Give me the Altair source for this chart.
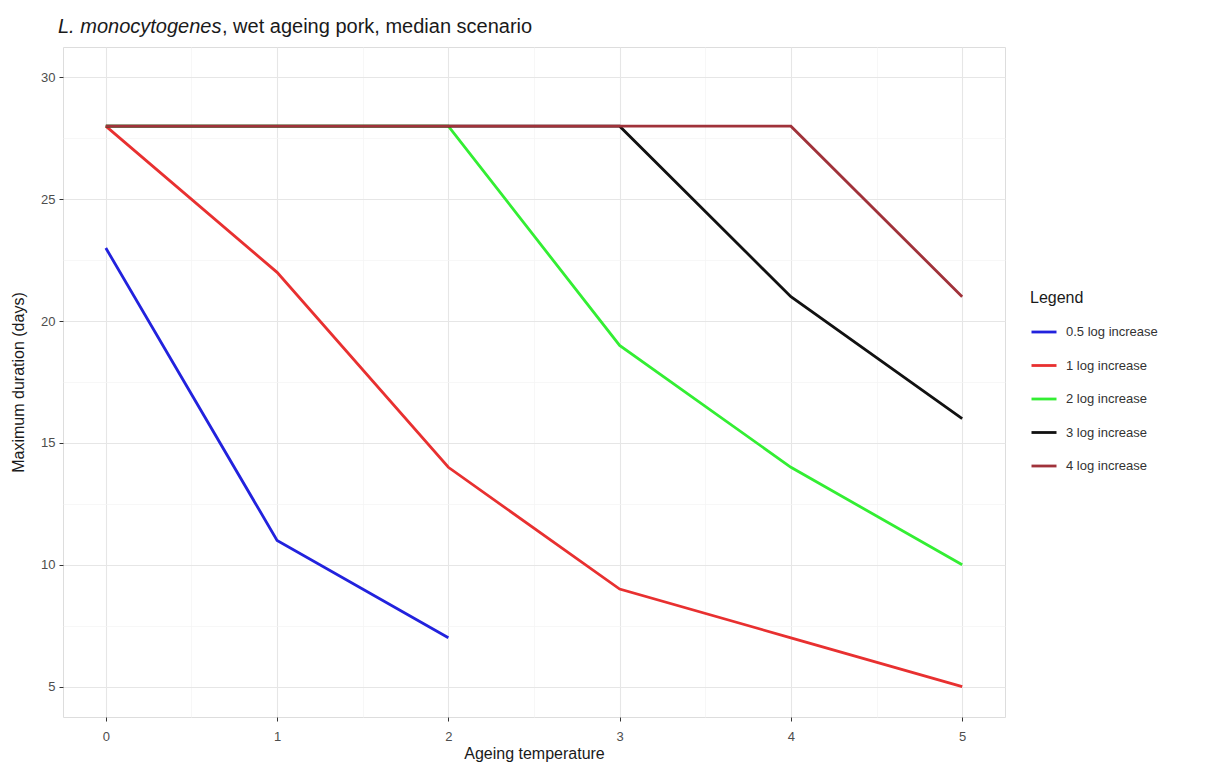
import altair as alt
import pandas as pd

temps = [0, 1, 2, 3, 4, 5]
series_names = ["0.5 log increase", "1 log increase", "2 log increase", "3 log increase", "4 log increase"]
half_log = [23, 11, 7]
one_log = [28, 22, 14, 9, 7, 5]
two_log = [28, 28, 28, 19, 14, 10]
three_log = [28, 28, 28, 28, 21, 16]
four_log = [28, 28, 28, 28, 28, 21]
colors = ["#2222dd", "#e83030", "#33ee33", "#111111", "#a0323a"]

rows = []
for order, (name, vals) in enumerate(zip(series_names, [half_log, one_log, two_log, three_log, four_log])):
    for t, v in zip(temps, vals):
        rows.append({"temp": t, "days": v, "series": name, "order": order})
df = pd.DataFrame(rows)

xscale = alt.Scale(domain=[-0.25, 5.25], nice=False, zero=False)
yscale = alt.Scale(domain=[3.75, 31.25], nice=False, zero=False)

minor = alt.Chart(df).mark_point(opacity=0).encode(
    x=alt.X("temp:Q", scale=xscale,
            axis=alt.Axis(values=[0.5, 1.5, 2.5, 3.5, 4.5], labels=False, ticks=False, domain=False,
                          title=None, grid=True, gridColor="#f3f3f3", gridWidth=0.7, orient="bottom")),
    y=alt.Y("days:Q", scale=yscale,
            axis=alt.Axis(values=[7.5, 12.5, 17.5, 22.5, 27.5], labels=False, ticks=False, domain=False,
                          title=None, grid=True, gridColor="#f3f3f3", gridWidth=0.7, orient="left")),
)

lines = alt.Chart(df).mark_line(strokeWidth=2.8).encode(
    x=alt.X("temp:Q", scale=xscale,
            axis=alt.Axis(values=temps, title="Ageing temperature", grid=True, gridColor="#e6e6e6",
                          gridWidth=1.1, domain=False, tickColor="#333333", tickSize=4,
                          labelColor="#4d4d4d", labelFontSize=13, labelPadding=9, orient="bottom",
                          titleFontSize=16, titleFontWeight="normal", titleColor="#1a1a1a",
                          titlePadding=2, labelFont="Liberation Sans", titleFont="Liberation Sans")),
    y=alt.Y("days:Q", scale=yscale,
            axis=alt.Axis(values=[5, 10, 15, 20, 25, 30], title="Maximum duration (days)", grid=True,
                          gridColor="#e6e6e6", gridWidth=1.1, domain=False, tickColor="#333333",
                          tickSize=4, labelColor="#4d4d4d", labelFontSize=13, labelPadding=4,
                          orient="left",
                          titleFontSize=16, titleFontWeight="normal", titleColor="#1a1a1a",
                          titlePadding=14, labelFont="Liberation Sans", titleFont="Liberation Sans")),
    color=alt.Color("series:N", scale=alt.Scale(domain=series_names, range=colors),
                    legend=alt.Legend(title="Legend", orient="none", legendX=967, legendY=243,
                                      symbolType="stroke", symbolSize=625, symbolStrokeWidth=2.8,
                                      labelFontSize=13, labelColor="#333333", titleFontSize=16,
                                      titleFontWeight="normal", titleColor="#1a1a1a",
                                      titlePadding=12, rowPadding=12.5, labelOffset=8,
                                      labelFont="Liberation Sans", titleFont="Liberation Sans")),
    order=alt.Order("temp:Q"),
    detail="series:N",
)

title_italic = alt.Chart(pd.DataFrame({"t": ["L. monocytogenes"]})).mark_text(
    align="left", baseline="alphabetic", fontSize=20, fontStyle="italic", font="Liberation Sans",
    color="#1a1a1a").encode(x=alt.value(-5), y=alt.value(-14), text="t:N")
title_rest = alt.Chart(pd.DataFrame({"t": [", wet ageing pork, median scenario"]})).mark_text(
    align="left", baseline="alphabetic", fontSize=20, font="Liberation Sans",
    color="#1a1a1a").encode(x=alt.value(159), y=alt.value(-14), text="t:N")

chart = alt.layer(lines, minor, title_italic, title_rest).resolve_axis(
    x="independent", y="independent"
).properties(
    width=942, height=670,
    autosize=alt.AutoSizeParams(type="none"),
    padding={"left": 55, "top": 39, "right": 185, "bottom": 46},
).configure_view(stroke="#9a9a9a", strokeWidth=1.2).configure(background="white")

chart.save("out.html", embed_options={"renderer": "svg", "actions": False})
